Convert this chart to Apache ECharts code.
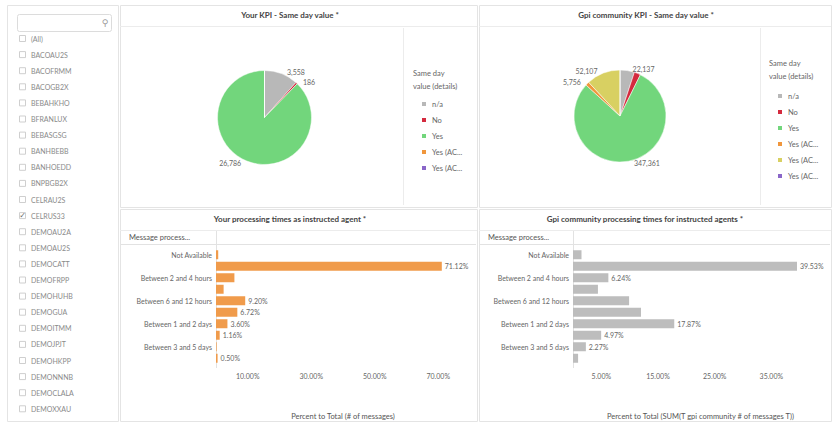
<!DOCTYPE html>
<html><head><meta charset="utf-8">
<script src="https://cdn.jsdelivr.net/npm/echarts@6/dist/echarts.min.js"></script>
<style>html,body{margin:0;padding:0;background:#fff}#c{width:834px;height:423px}</style>
</head><body><div id="c"></div>
<script>
// ---- data ----
const filterItems = ['(All)','BACOAU2S','BACOFRMM','BACOGB2X','BEBAHKHO','BFRANLUX','BEBASGSG','BANHBEBB','BANHOEDD','BNPBGB2X','CELRAU2S','CELRUS33','DEMOAU2A','DEMOAU2S','DEMOCATT','DEMOFRPP','DEMOHUHB','DEMOGUA','DEMOITMM','DEMOJPJT','DEMOHKPP','DEMONNNB','DEMOCLALA','DEMOXXAU'];
const checkedItems = ['CELRUS33'];

const sameDayColors = {'n/a':'#b8b8b8','No':'#d42a3e','Yes':'#72d67c','Yes (ACSC)':'#f0963c','Yes (ACCC)':'#d8d062','Yes (ACPD)':'#8a66c8'};

const yourKpiNames  = ['n/a','No','Yes','Yes (ACSC)','Yes (ACPD)'];
const yourKpiValues = [3558, 186, 26786, 0, 0];
const yourKpiShowLabel = [true, true, true, false, false];

const gpiKpiNames  = ['n/a','No','Yes','Yes (ACSC)','Yes (ACCC)','Yes (ACPD)'];
const gpiKpiValues = [22137, 9800, 347361, 5756, 52107, 0];
const gpiKpiShowLabel = [true, false, true, true, true, false];

const timeCategories = ['Not Available','Less than 2 hours','Between 2 and 4 hours','Between 4 and 6 hours','Between 6 and 12 hours','Between 12 and 24 hours','Between 1 and 2 days','Between 2 and 3 days','Between 3 and 5 days','More than 5 days'];
const yourTimes = [0.7, 71.12, 5.8, 2.4, 9.20, 6.72, 3.60, 1.16, 0.2, 0.50];
const yourTimeShowLabel = [false, true, false, false, true, true, true, true, false, true];
const gpiTimes = [1.5, 39.53, 6.24, 4.4, 9.9, 12.0, 17.87, 4.97, 2.27, 0.9];
const gpiTimeShowLabel = [false, true, true, false, false, false, true, true, true, false];

const yourTickLabels = [10, 30, 50, 70];
const gpiTickLabels = [5, 15, 25, 35];

// ---- chart ----
const FONT = 'Lato, "Open Sans", sans-serif';
const chart = echarts.init(document.getElementById('c'), null, {renderer:'svg'});

function pieData(names, values, flags){
  return names.map((n,i)=>({name:n, value:values[i], itemStyle:{color:sameDayColors[n]}, label:{show:flags[i] && values[i]>0}}));
}
function barData(values, flags){
  return values.map((v,i)=>({value:v, label:{show:flags[i]}}));
}
function pct(v){ return v.toFixed(2)+'%'; }

const graphic = [];
// panels
const panels = [[7,5,111,416],[120,5,357,202],[479,5,352,202],[120,209,357,212],[479,209,352,212]];
panels.forEach(p=>graphic.push({type:'rect', shape:{x:p[0]+0.5,y:p[1]+0.5,width:p[2],height:p[3]}, style:{fill:'none', stroke:'#e4e4e4', lineWidth:1}, silent:true}));
// title underlines
[[120,477,26],[479,831,26],[120,477,230],[479,831,230]].forEach(l=>graphic.push({type:'line', shape:{x1:l[0],y1:l[2]+0.5,x2:l[1],y2:l[2]+0.5}, style:{stroke:'#ececec'}, silent:true}));
// legend separators
[[403,28,205],[760,28,205]].forEach(l=>graphic.push({type:'line', shape:{x1:l[0]+0.5,y1:l[1],x2:l[0]+0.5,y2:l[2]}, style:{stroke:'#ececec'}, silent:true}));
// header rows of bar panels
[[121,476,216],[480,830,573]].forEach(h=>{
  graphic.push({type:'line', shape:{x1:h[0],y1:244.5,x2:h[1],y2:244.5}, style:{stroke:'#e2e2e2'}, silent:true});
  graphic.push({type:'line', shape:{x1:h[2]+0.5,y1:231,x2:h[2]+0.5,y2:368}, style:{stroke:'#e2e2e2'}, silent:true});
  graphic.push({type:'text', x:h[0]+8, y:237.5, style:{text:'Message process...', font:'7.5px '+FONT, fill:'#555', verticalAlign:'middle'}, silent:true});
});
// titles
[['Your KPI - Same day value *',290,15],['Gpi community KPI - Same day value *',646,15],['Your processing times as instructed agent *',290,219],['Gpi community processing times for instructed agents *',645,219]].forEach(t=>{
  graphic.push({type:'text', x:t[1], y:t[2], style:{text:t[0], font:'bold 8px '+FONT, fill:'#444', align:'center', verticalAlign:'middle'}, silent:true});
});
// legend titles
[[413,80],[769,70]].forEach(t=>{
  graphic.push({type:'text', x:t[0], y:t[1], style:{text:'Same day\nvalue (details)', font:'7.5px '+FONT, fill:'#666', lineHeight:13, verticalAlign:'middle'}, silent:true});
});
// filter search box
graphic.push({type:'rect', shape:{x:17.5,y:14.5,width:94,height:17,r:2}, style:{fill:'#fff', stroke:'#dcdcdc'}, silent:true});
graphic.push({type:'text', x:105, y:23, style:{text:'⚲', font:'9px DejaVu Sans', fill:'#999', align:'center', verticalAlign:'middle'}, silent:true});
// filter items
filterItems.forEach((name,i)=>{
  const y = 38.5 + i*16.1;
  graphic.push({type:'rect', shape:{x:19.5,y:y-3,width:6,height:6}, style:{fill:'#fff', stroke:'#cfcfcf'}, silent:true});
  if (checkedItems.includes(name)) graphic.push({type:'text', x:22.5, y:y, style:{text:'✓', font:'bold 8px DejaVu Sans', fill:'#666', align:'center', verticalAlign:'middle'}, silent:true});
  graphic.push({type:'text', x:31, y:y, style:{text:name, font:'7px '+FONT, fill:'#8a8a8a', verticalAlign:'middle'}, silent:true});
});

const legendBase = {orient:'vertical', icon:'rect', itemWidth:6, itemHeight:6, itemGap:8,
  textStyle:{fontSize:7.5, lineHeight:8, color:'#666', fontFamily:FONT},
  formatter: n => n.length>7 ? n.slice(0,7)+'...' : n, selectedMode:false};

const catAxis = (gi)=>({type:'category', gridIndex:gi, data:timeCategories, inverse:true,
  axisLine:{show:false}, axisTick:{show:false},
  axisLabel:{interval:1, fontSize:7, color:'#666', fontFamily:FONT, margin:4}});
const valAxis = (gi, max, interval, ticks, name)=>({type:'value', gridIndex:gi, min:0, max:max, interval:interval,
  splitLine:{show:false}, axisLine:{show:false}, axisTick:{show:false},
  axisLabel:{fontSize:7, color:'#666', fontFamily:FONT, margin:8, formatter:v=> ticks.includes(v)? pct(v):''},
  name:name, nameLocation:'middle', nameGap:48, nameTextStyle:{fontSize:7.5, color:'#555', fontFamily:FONT}});

const barLabel = {position:'right', distance:3, fontSize:7, color:'#666', fontFamily:FONT, formatter:p=>pct(p.value)};

chart.setOption({
  animation:false,
  textStyle:{fontFamily:FONT},
  graphic: graphic,
  legend:[
    Object.assign({left:415, top:95, data:yourKpiNames}, legendBase),
    Object.assign({left:771, top:87, data:gpiKpiNames}, legendBase)
  ],
  grid:[
    {left:216, top:249, width:254, height:115},
    {left:573, top:249, width:255, height:115}
  ],
  xAxis:[
    valAxis(0, 80, 10, yourTickLabels, 'Percent to Total (# of messages)'),
    valAxis(1, 45, 5, gpiTickLabels, 'Percent to Total (SUM(T gpi community # of messages T))')
  ],
  yAxis:[catAxis(0), catAxis(1)],
  series:[
    {type:'pie', center:[264.5,117.5], radius:47, startAngle:90, data:pieData(yourKpiNames, yourKpiValues, yourKpiShowLabel),
      itemStyle:{borderColor:'#fff', borderWidth:0.5},
      label:{position:'outside', fontSize:7, color:'#666', fontFamily:FONT, formatter:p=>p.value.toLocaleString('en-US')},
      labelLine:{show:false, length:2, length2:0}, emphasis:{disabled:true}},
    {type:'pie', center:[620,116], radius:46, startAngle:90, data:pieData(gpiKpiNames, gpiKpiValues, gpiKpiShowLabel),
      itemStyle:{borderColor:'#fff', borderWidth:0.5},
      label:{position:'outside', fontSize:7, color:'#666', fontFamily:FONT, formatter:p=>p.value.toLocaleString('en-US')},
      labelLine:{show:false, length:2, length2:0}, emphasis:{disabled:true}},
    {type:'bar', xAxisIndex:0, yAxisIndex:0, barWidth:9, data:barData(yourTimes, yourTimeShowLabel),
      itemStyle:{color:'#f09b4b'}, label:barLabel},
    {type:'bar', xAxisIndex:1, yAxisIndex:1, barWidth:9, data:barData(gpiTimes, gpiTimeShowLabel),
      itemStyle:{color:'#bdbdbd'}, label:barLabel}
  ]
});
</script>
</body></html>
